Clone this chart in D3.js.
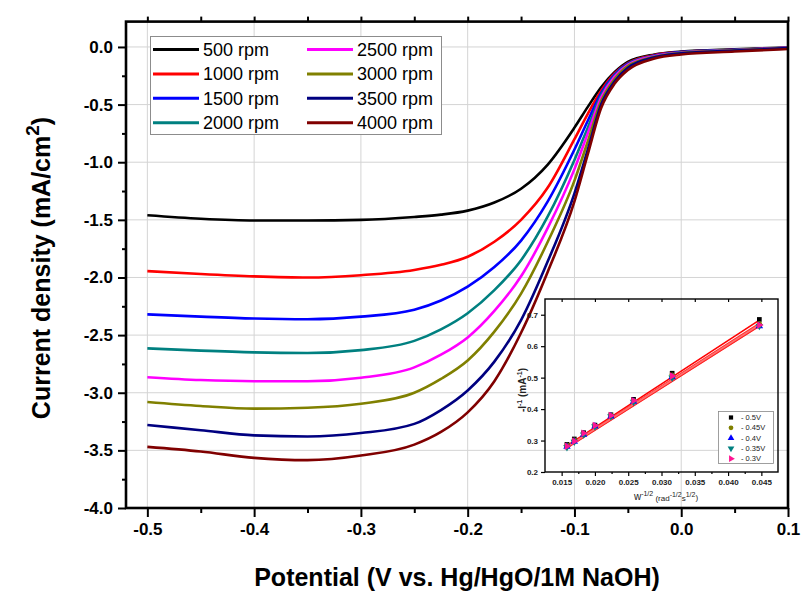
<!DOCTYPE html>
<html>
<head>
<meta charset="utf-8">
<script src="https://cdn.jsdelivr.net/npm/d3@7"></script>
<style>
body { margin: 0; background: #fff; }
text { font-family: Arial, 'Liberation Sans', sans-serif; }
</style>
</head>
<body>
<div class="js-chart"></div>
<script>
'use strict';

// potential (V vs. Hg/HgO) for the LSV curves
const potentials = [-0.5, -0.45, -0.4, -0.35, -0.3, -0.25, -0.225, -0.2, -0.175, -0.15, -0.125, -0.1, -0.0875, -0.075, -0.0625, -0.05, -0.025, 0, 0.05, 0.1];

const rpmLabels = ['500 rpm', '1000 rpm', '1500 rpm', '2000 rpm', '2500 rpm', '3000 rpm', '3500 rpm', '4000 rpm'];
const rpmColors = ['#000000', '#ff0000', '#0000ff', '#008080', '#ff00ff', '#808000', '#000080', '#800000'];

// current density (mA/cm2), one array per rotation speed
const j500 = [-1.46, -1.49, -1.505, -1.505, -1.50, -1.475, -1.455, -1.42, -1.35, -1.23, -1.02, -0.70, -0.52, -0.35, -0.22, -0.13, -0.065, -0.04, -0.02, -0.005];
const j1000 = [-1.945, -1.97, -1.99, -2.0, -1.98, -1.935, -1.89, -1.82, -1.69, -1.50, -1.22, -0.80, -0.58, -0.38, -0.23, -0.14, -0.07, -0.045, -0.025, -0.008];
const j1500 = [-2.32, -2.34, -2.356, -2.362, -2.34, -2.28, -2.20, -2.08, -1.91, -1.68, -1.34, -0.89, -0.64, -0.40, -0.24, -0.145, -0.075, -0.045, -0.025, -0.008];
const j2000 = [-2.615, -2.635, -2.65, -2.655, -2.63, -2.55, -2.45, -2.31, -2.11, -1.85, -1.47, -0.98, -0.70, -0.42, -0.25, -0.15, -0.078, -0.048, -0.027, -0.008];
const j2500 = [-2.865, -2.89, -2.90, -2.90, -2.87, -2.78, -2.67, -2.52, -2.29, -1.99, -1.57, -1.06, -0.75, -0.44, -0.26, -0.155, -0.08, -0.05, -0.028, -0.008];
const j3000 = [-3.08, -3.115, -3.138, -3.13, -3.095, -3.00, -2.88, -2.72, -2.47, -2.14, -1.69, -1.16, -0.82, -0.47, -0.28, -0.165, -0.085, -0.052, -0.03, -0.01];
const j3500 = [-3.28, -3.325, -3.37, -3.38, -3.35, -3.27, -3.15, -2.98, -2.73, -2.37, -1.86, -1.27, -0.89, -0.50, -0.30, -0.18, -0.09, -0.055, -0.032, -0.01];
const j4000 = [-3.47, -3.51, -3.565, -3.585, -3.545, -3.45, -3.34, -3.17, -2.90, -2.48, -1.95, -1.34, -0.93, -0.53, -0.32, -0.20, -0.10, -0.065, -0.04, -0.018];
const currentSeries = [j500, j1000, j1500, j2000, j2500, j3000, j3500, j4000];

const xTicks = [-0.5, -0.4, -0.3, -0.2, -0.1, 0.0, 0.1];
const xMinorTicks = [-0.45, -0.35, -0.25, -0.15, -0.05, 0.05];
const yTicks = [0.0, -0.5, -1.0, -1.5, -2.0, -2.5, -3.0, -3.5, -4.0];
const yMinorTicks = [-0.25, -0.75, -1.25, -1.75, -2.25, -2.75, -3.25, -3.75];

// inset: Koutecky-Levich plot
const invSqrtW = [0.0158, 0.0169, 0.0183, 0.0200, 0.0224, 0.0258, 0.0316, 0.0447];
const klLabels = ['- 0.5V', '- 0.45V', '- 0.4V', '- 0.35V', '- 0.3V'];
const klColors = ['#000000', '#808000', '#0000ff', '#008080', '#ff1493'];
const kl050 = [0.288, 0.305, 0.325, 0.349, 0.382, 0.431, 0.514, 0.685];
const kl045 = [0.285, 0.301, 0.321, 0.346, 0.380, 0.427, 0.508, 0.671];
const kl040 = [0.281, 0.297, 0.319, 0.345, 0.377, 0.424, 0.502, 0.664];
const kl035 = [0.279, 0.296, 0.319, 0.345, 0.377, 0.423, 0.500, 0.664];
const kl030 = [0.282, 0.298, 0.323, 0.348, 0.380, 0.427, 0.505, 0.667];
const klSeries = [kl050, kl045, kl040, kl035, kl030];
const klFitStart = [0.284, 0.281, 0.278, 0.277, 0.280];
const klFitEnd = [0.683, 0.672, 0.665, 0.664, 0.668];
const klFitColors = ['#ff0000', '#ff3030', '#ff5050', '#ff2020', '#ff7070'];

const insetXTicks = [0.015, 0.020, 0.025, 0.030, 0.035, 0.040, 0.045];
const insetYTicks = [0.2, 0.3, 0.4, 0.5, 0.6, 0.7];

const fmt1 = d => d.toFixed(1);

function drawChart() {

	const svg = d3.select('.js-chart')
		.append('svg')
		.attr('width', 802)
		.attr('height', 591);

	svg.append('rect')
		.attr('width', 802)
		.attr('height', 591)
		.attr('fill', '#fff');

	const x = d3.scaleLinear().domain([-0.52, 0.1]).range([126, 788]);
	const y = d3.scaleLinear().domain([-4.0, 0.22]).range([508, 21.6]);

	// grid
	svg.append('g')
		.selectAll('line')
		.data(xTicks.slice(0, -1))
		.enter()
		.append('line')
		.attr('x1', d => x(d)).attr('x2', d => x(d))
		.attr('y1', y(0.22)).attr('y2', y(-4.0))
		.attr('stroke', '#d4d4d4')
		.attr('stroke-width', 1);

	svg.append('g')
		.selectAll('line')
		.data(yTicks.slice(0, -1))
		.enter()
		.append('line')
		.attr('x1', x(-0.52)).attr('x2', x(0.1))
		.attr('y1', d => y(d)).attr('y2', d => y(d))
		.attr('stroke', '#d4d4d4')
		.attr('stroke-width', 1);

	// curves
	svg.append('clipPath')
		.attr('id', 'plotClip')
		.append('rect')
		.attr('x', x(-0.52)).attr('y', y(0.22))
		.attr('width', x(0.1) - x(-0.52))
		.attr('height', y(-4.0) - y(0.22));

	const line = d3.line()
		.x((d, i) => x(potentials[i]))
		.y(d => y(d))
		.curve(d3.curveMonotoneX);

	svg.append('g')
		.attr('clip-path', 'url(#plotClip)')
		.selectAll('path')
		.data(currentSeries)
		.enter()
		.append('path')
		.attr('d', line)
		.attr('fill', 'none')
		.attr('stroke', (d, i) => rpmColors[i])
		.attr('stroke-width', 2.6)
		.attr('stroke-linejoin', 'round');

	// axes
	const styleAxis = function(g) {
		g.select('.domain').remove();
		g.selectAll('line').attr('stroke', '#000').attr('stroke-width', 2);
		g.selectAll('text')
			.attr('fill', '#000')
			.attr('font-size', 17)
			.attr('font-weight', 'bold')
			.attr('font-family', 'Arial, Liberation Sans, sans-serif');
	};

	svg.append('g')
		.attr('transform', `translate(0,${y(-4.0)})`)
		.call(d3.axisBottom(x).tickValues(xTicks).tickFormat(fmt1).tickSize(9).tickPadding(6))
		.call(styleAxis);

	svg.append('g')
		.attr('transform', `translate(0,${y(-4.0)})`)
		.call(d3.axisBottom(x).tickValues(xMinorTicks).tickFormat('').tickSize(5))
		.call(styleAxis);

	svg.append('g')
		.attr('transform', `translate(${x(-0.52)},0)`)
		.call(d3.axisLeft(y).tickValues(yTicks).tickFormat(fmt1).tickSize(8).tickPadding(5))
		.call(styleAxis);

	svg.append('g')
		.attr('transform', `translate(${x(-0.52)},0)`)
		.call(d3.axisLeft(y).tickValues(yMinorTicks).tickFormat('').tickSize(4))
		.call(styleAxis);

	svg.append('g')
		.attr('transform', `translate(0,${y(0.22)})`)
		.call(d3.axisTop(x).tickValues(xTicks.concat(xMinorTicks)).tickFormat('').tickSize(5))
		.call(styleAxis);

	svg.append('rect')
		.attr('x', x(-0.52)).attr('y', y(0.22))
		.attr('width', x(0.1) - x(-0.52))
		.attr('height', y(-4.0) - y(0.22))
		.attr('fill', 'none')
		.attr('stroke', '#000')
		.attr('stroke-width', 2.6);

	// axis titles
	svg.append('text')
		.attr('x', 457)
		.attr('y', 586)
		.attr('text-anchor', 'middle')
		.attr('font-size', 25)
		.attr('font-weight', 'bold')
		.text('Potential (V vs. Hg/HgO/1M NaOH)');

	const yTitle = svg.append('text')
		.attr('transform', 'translate(50,268) rotate(-90)')
		.attr('text-anchor', 'middle')
		.attr('font-size', 25)
		.attr('font-weight', 'bold');
	yTitle.append('tspan').text('Current density (mA/cm');
	yTitle.append('tspan').attr('dy', -11).attr('font-size', 19).text('2');
	yTitle.append('tspan').attr('dy', 11).text(')');

	drawLegend(svg);
	drawInset(svg);
}

function drawLegend(svg) {

	svg.append('rect')
		.attr('x', 150.5).attr('y', 36.5)
		.attr('width', 291).attr('height', 98)
		.attr('fill', '#fff')
		.attr('stroke', '#8c8c8c')
		.attr('stroke-width', 1);

	const items = svg.append('g')
		.selectAll('g')
		.data(rpmLabels)
		.enter()
		.append('g')
		.attr('transform', (d, i) => `translate(${i < 4 ? 152 : 306},${49.5 + (i % 4) * 24.4})`);

	items.append('line')
		.attr('x1', 1).attr('x2', 47)
		.attr('stroke', (d, i) => rpmColors[i])
		.attr('stroke-width', 3);

	items.append('text')
		.attr('x', 51)
		.attr('dy', '0.35em')
		.attr('font-size', 18)
		.text(d => d);
}

function drawInset(svg) {

	const xi = d3.scaleLinear().domain([0.0125, 0.0475]).range([545, 778]);
	const yi = d3.scaleLinear().domain([0.2, 0.75]).range([472, 299]);

	const styleInsetAxis = function(g) {
		g.select('.domain').remove();
		g.selectAll('line').attr('stroke', '#000').attr('stroke-width', 1.2);
		g.selectAll('text')
			.attr('fill', '#222')
			.attr('font-size', 8)
			.attr('font-weight', 'bold')
			.attr('font-family', 'Arial, Liberation Sans, sans-serif');
	};

	// fits
	svg.append('g')
		.selectAll('line')
		.data(klFitStart)
		.enter()
		.append('line')
		.attr('x1', xi(invSqrtW[0]))
		.attr('x2', xi(invSqrtW[invSqrtW.length - 1]))
		.attr('y1', d => yi(d))
		.attr('y2', (d, i) => yi(klFitEnd[i]))
		.attr('stroke', (d, i) => klFitColors[i])
		.attr('stroke-width', 1.6);

	const symbols = [
		d3.symbol().type(d3.symbolSquare).size(22),
		d3.symbol().type(d3.symbolCircle).size(22),
		d3.symbol().type(d3.symbolTriangle).size(24),
		d3.symbol().type(d3.symbolTriangle).size(24),
		d3.symbol().type(d3.symbolTriangle).size(24)
	];
	const rotations = [0, 0, 0, 180, 90];

	klSeries.forEach(function(series, s) {
		svg.append('g')
			.selectAll('path')
			.data(series)
			.enter()
			.append('path')
			.attr('d', symbols[s])
			.attr('transform', (d, i) => `translate(${xi(invSqrtW[i])},${yi(d)}) rotate(${rotations[s]})`)
			.attr('fill', klColors[s]);
	});

	svg.append('g')
		.attr('transform', `translate(0,472)`)
		.call(d3.axisBottom(xi).tickValues(insetXTicks).tickFormat(d3.format('.3f')).tickSize(4).tickPadding(3))
		.call(styleInsetAxis);

	svg.append('g')
		.attr('transform', `translate(0,472)`)
		.call(d3.axisBottom(xi).tickValues([0.0175, 0.0225, 0.0275, 0.0325, 0.0375, 0.0425]).tickFormat('').tickSize(2))
		.call(styleInsetAxis);

	svg.append('g')
		.attr('transform', `translate(545,0)`)
		.call(d3.axisLeft(yi).tickValues(insetYTicks).tickFormat(fmt1).tickSize(4).tickPadding(3))
		.call(styleInsetAxis);

	svg.append('g')
		.attr('transform', `translate(0,299)`)
		.call(d3.axisBottom(xi).tickValues(insetXTicks).tickFormat('').tickSize(3))
		.call(styleInsetAxis);

	svg.append('rect')
		.attr('x', 545).attr('y', 299)
		.attr('width', 233).attr('height', 173)
		.attr('fill', 'none')
		.attr('stroke', '#000')
		.attr('stroke-width', 1.4);

	// inset titles
	const xt = svg.append('text')
		.attr('x', 666)
		.attr('y', 500)
		.attr('text-anchor', 'middle')
		.attr('font-size', 10)
		.attr('fill', '#222');
	xt.append('tspan').text('w');
	xt.append('tspan').attr('dy', -4).attr('font-size', 7).text('-1/2');
	xt.append('tspan').attr('dy', 5).attr('font-size', 8).text(' (rad');
	xt.append('tspan').attr('dy', -4).attr('font-size', 7).text('-1/2');
	xt.append('tspan').attr('dy', 4).attr('font-size', 8).text('s');
	xt.append('tspan').attr('dy', -4).attr('font-size', 7).text('1/2');
	xt.append('tspan').attr('dy', 3).attr('font-size', 8).text(')');

	const yt = svg.append('text')
		.attr('transform', 'translate(526,390) rotate(-90)')
		.attr('text-anchor', 'middle')
		.attr('font-size', 10)
		.attr('font-weight', 'bold')
		.attr('fill', '#222');
	yt.append('tspan').text('-I');
	yt.append('tspan').attr('dy', -4).attr('font-size', 7).text('-1');
	yt.append('tspan').attr('dy', 4).text(' (mA');
	yt.append('tspan').attr('dy', -4).attr('font-size', 7).text('-1');
	yt.append('tspan').attr('dy', 4).text(')');

	// inset legend
	svg.append('rect')
		.attr('x', 718.5).attr('y', 411.5)
		.attr('width', 55).attr('height', 52)
		.attr('fill', '#fff')
		.attr('stroke', '#888')
		.attr('stroke-width', 0.8);

	const items = svg.append('g')
		.selectAll('g')
		.data(klLabels)
		.enter()
		.append('g')
		.attr('transform', (d, i) => `translate(731,${417.5 + i * 10.3})`);

	items.append('path')
		.attr('d', (d, i) => symbols[i]())
		.attr('transform', (d, i) => `scale(0.9) rotate(${rotations[i]})`)
		.attr('fill', (d, i) => klColors[i]);

	items.append('text')
		.attr('x', 10)
		.attr('dy', '0.35em')
		.attr('font-size', 7.5)
		.attr('fill', '#222')
		.text(d => d);
}

drawChart();
</script>
</body>
</html>
